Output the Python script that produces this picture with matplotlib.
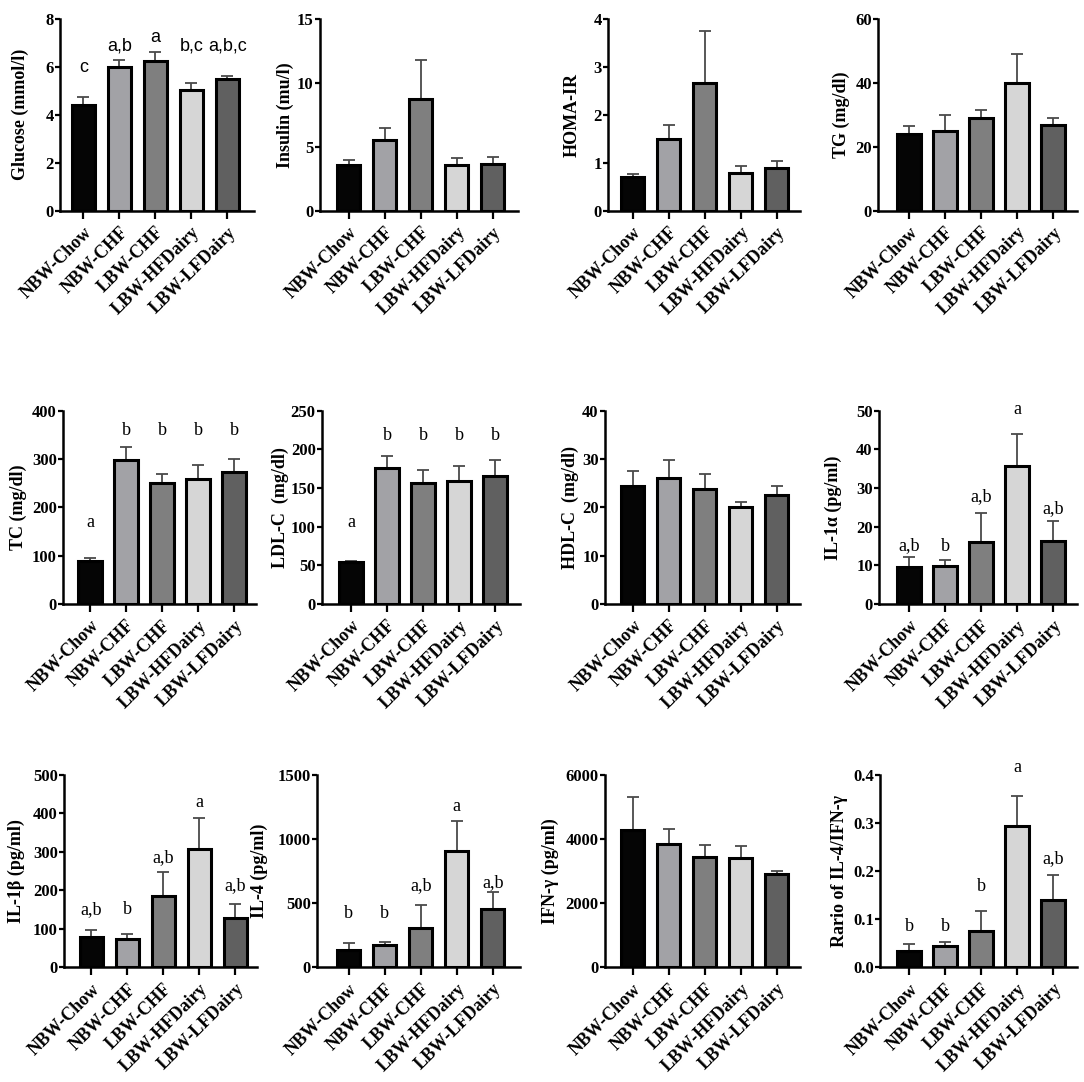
import numpy as np
import matplotlib
matplotlib.use("Agg")
import matplotlib.pyplot as plt

plt.rcParams['font.family'] = ['Liberation Serif', 'DejaVu Serif']
plt.rcParams['font.weight'] = 'bold'

groups = ["NBW-Chow", "NBW-CHF", "LBW-CHF", "LBW-HFDairy", "LBW-LFDairy"]
colors = ["#050505", "#a2a2a6", "#7f7f7f", "#d6d6d6", "#606060"]

titles = ["Glucose (mmol/l)", "Insulin (mu/l)", "HOMA-IR", "TG (mg/dl)",
          "TC (mg/dl)", "LDL-C  (mg/dl)", "HDL-C  (mg/dl)", "IL-1\u03b1 (pg/ml)",
          "IL-1\u03b2 (pg/ml)", "IL-4 (pg/ml)", "IFN-\u03b3 (pg/ml)", "Rario of IL-4/IFN-\u03b3"]

means = [
    [4.42, 5.98, 6.25, 5.03, 5.48],
    [3.6, 5.55, 8.75, 3.6, 3.65],
    [0.70, 1.50, 2.67, 0.79, 0.89],
    [24.0, 24.8, 29.0, 39.9, 26.9],
    [90, 299, 250, 259, 273],
    [54, 176, 157, 159, 166],
    [24.4, 26.0, 23.9, 20.0, 22.6],
    [9.5, 9.9, 16.1, 35.8, 16.4],
    [80, 73, 186, 308, 127],
    [135, 172, 307, 910, 452],
    [4270, 3855, 3451, 3409, 2902],
    [0.034, 0.045, 0.075, 0.293, 0.140],
]
errs = [
    [0.33, 0.30, 0.37, 0.29, 0.15],
    [0.40, 0.95, 3.05, 0.52, 0.55],
    [0.07, 0.28, 1.09, 0.15, 0.15],
    [2.6, 5.25, 2.5, 9.0, 2.1],
    [6, 26, 19, 28, 28],
    [2, 15.5, 16, 20, 20],
    [3.1, 3.7, 2.95, 1.1, 1.8],
    [2.6, 1.5, 7.4, 8.1, 5.0],
    [16, 13, 63, 80, 38],
    [55, 28, 176, 234, 138],
    [1036, 456, 373, 363, 103],
    [0.014, 0.008, 0.042, 0.064, 0.052],
]
ymax = [8, 15, 4, 60, 400, 250, 40, 50, 500, 1500, 6000, 0.4]
ystep = [2, 5, 1, 20, 100, 50, 10, 10, 100, 500, 2000, 0.1]

letters = {
    0: (["c", "a,b", "a", "b,c", "a,b,c"], [5.98, 6.86, 7.23, 6.86, 6.86]),
    4: (["a", "b", "b", "b", "b"], [168, 360, 360, 360, 360]),
    5: (["a", "b", "b", "b", "b"], [105, 217.5, 217.5, 217.5, 217.5]),
    7: (["a,b", "b", "a,b", "a", "a,b"], [15.0, 15.0, 27.7, 50.4, 24.6]),
    8: (["a,b", "b", "a,b", "a", "a,b"], [149, 149, 285, 428, 212]),
    9: (["b", "b", "a,b", "a", "a,b"], [421, 421, 637, 1258, 663]),
    11: (["b", "b", "b", "a", "a,b"], [0.084, 0.084, 0.169, 0.415, 0.227]),
}

# layout in pixels (figure 1084 x 1082)
W, H = 1084, 1082
ax_l = [60, 320, 608, 878, 63, 322, 605, 879, 64, 317, 605, 880]
ax_r = [254, 518, 800, 1077, 256, 520, 800, 1077, 257, 520, 800, 1077]
tick0 = [83.3, 348.7, 632.5, 909, 90, 351, 632.8, 909, 91.3, 348.7, 632.5, 909]
lab_x = [20, 285, 572, 841, 18, 280, 570, 833, 16.5, 259, 550, 839]
row_top = [19, 410.7, 775]
row_bot = [210.7, 604, 967.3]
sp = 36.0

fig = plt.figure(figsize=(10.84, 10.82), dpi=100)
x = np.arange(len(groups))
for i in range(12):
    r = i // 4
    width_px = ax_r[i] - ax_l[i]
    ax = fig.add_axes([ax_l[i] / W, 1 - row_bot[r] / H,
                       width_px / W, (row_bot[r] - row_top[r]) / H])
    ax.bar(x, means[i], width=0.64, color=colors, edgecolor="black", linewidth=2.2, zorder=2)
    ax.errorbar(x, means[i], yerr=[np.zeros(5), errs[i]], fmt="none",
                ecolor="#4a4a4a", elinewidth=1.3, capsize=4.4, capthick=1.3, zorder=1)
    ax.set_xlim((ax_l[i] - tick0[i]) / sp, (ax_r[i] - tick0[i]) / sp)
    ax.set_ylim(0, ymax[i])
    ticks = np.arange(0, ymax[i] + ystep[i] / 2, ystep[i])
    ax.set_yticks(ticks)
    if i == 11:
        ax.set_yticklabels(["%.1f" % t for t in ticks])
    else:
        ax.set_yticklabels(["%g" % t for t in ticks])
    ax.set_xticks(x)
    ax.set_xticklabels(groups, rotation=45, ha="right", rotation_mode="anchor",
                       fontsize=13, fontweight="bold")
    for s in ["top", "right"]:
        ax.spines[s].set_visible(False)
    for s in ["left", "bottom"]:
        ax.spines[s].set_linewidth(1.8)
    ax.tick_params(axis="y", width=1.6, length=3.5, labelsize=12, pad=1)
    ax.tick_params(axis="x", width=1.6, length=5.5, pad=4)
    ax.set_ylabel(titles[i], fontsize=13, fontweight="bold", va="center")
    ax.yaxis.set_label_coords((lab_x[i] - ax_l[i]) / width_px, 0.5)
    if i in letters:
        labs, ys = letters[i]
        for k in range(5):
            if i == 0:
                ax.text(x[k], ys[k], labs[k], ha="center", va="center",
                        fontsize=13, fontweight="normal", family="Liberation Sans",
                        clip_on=False)
            else:
                ax.text(x[k], ys[k], labs[k], ha="center", va="center",
                        fontsize=13, fontweight="normal", clip_on=False)

plt.savefig("out.png", dpi=100)
